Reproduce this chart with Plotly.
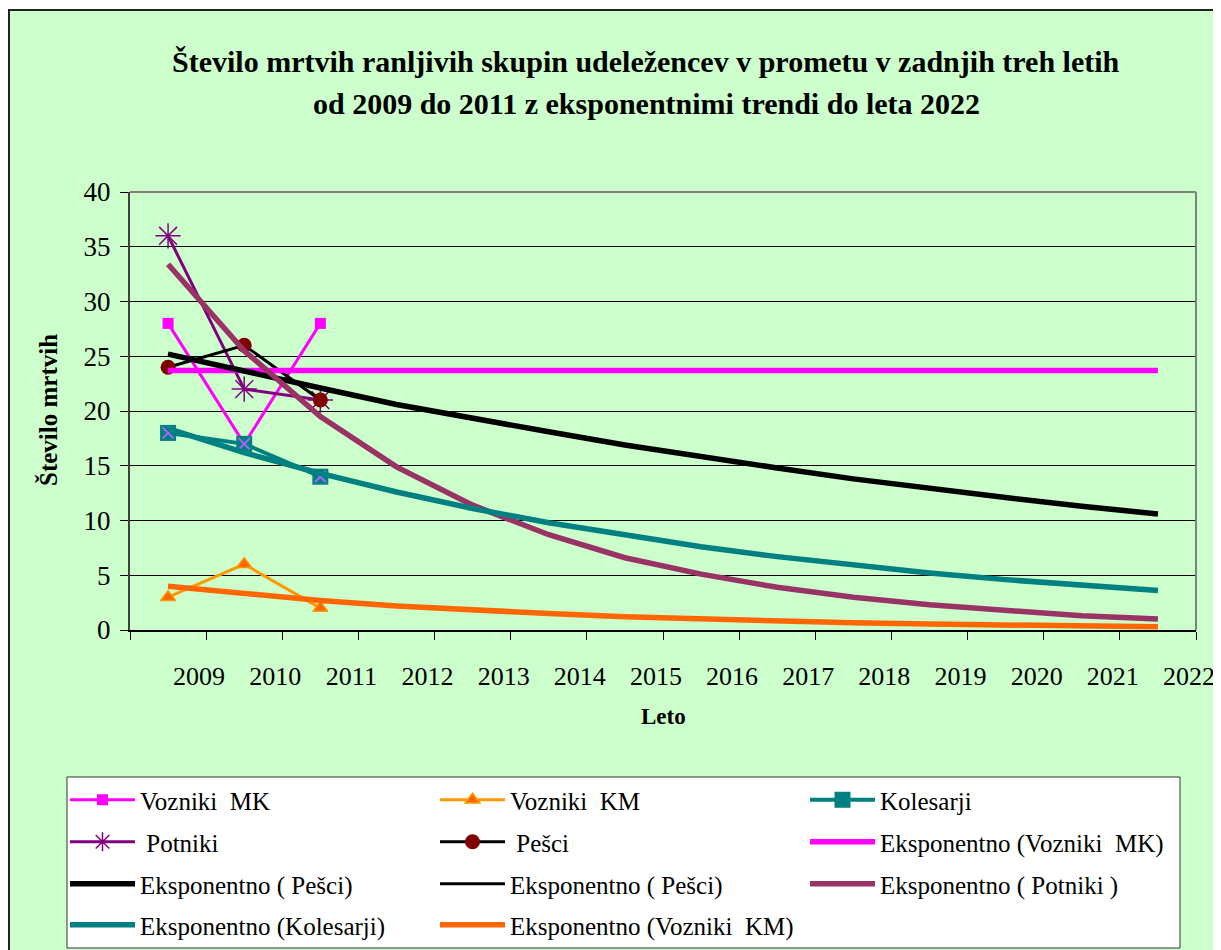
import plotly.graph_objects as go

# page body has an 8px margin; the figure is sized so it fills the 1221x950 window
OFF = 8
W, H = 1221 - OFF, 950 - OFF

years = [str(y) for y in range(2009, 2023)]
data_years = years[:3]

vozniki_mk = [28, 17, 28]
vozniki_km = [3, 6, 2]
kolesarji = [18, 17, 14]
potniki = [36, 22, 21]
pesci = [24, 26, 21]

trend_mk = [23.7] * 14
trend_pesci = [25.2, 23.6, 22.1, 20.6, 19.3, 18.1, 16.9, 15.8, 14.8, 13.8, 12.9, 12.1, 11.3, 10.6]
trend_potniki = [33.4, 25.5, 19.5, 14.9, 11.4, 8.7, 6.6, 5.1, 3.9, 3.0, 2.3, 1.75, 1.3, 1.0]
trend_kolesarji = [18.4, 16.2, 14.3, 12.6, 11.1, 9.8, 8.7, 7.6, 6.7, 5.9, 5.2, 4.6, 4.1, 3.6]
trend_km = [4.0, 3.3, 2.7, 2.2, 1.8, 1.5, 1.2, 1.0, 0.8, 0.66, 0.54, 0.44, 0.36, 0.29]

FONT = "Liberation Serif"


def px(x):
    return (x - OFF) / W


def py(y):
    return 1 - (y - OFF) / H


fig = go.Figure()

# data series
fig.add_trace(go.Scatter(x=data_years, y=vozniki_mk, name="Vozniki\u00a0 MK", mode="lines+markers",
                         line=dict(color="#FF00FF", width=3),
                         marker=dict(symbol="square", size=11, color="#FF00FF"), legend="legend"))
fig.add_trace(go.Scatter(x=data_years, y=vozniki_km, name="Vozniki\u00a0 KM", mode="lines+markers",
                         line=dict(color="#FF9900", width=3),
                         marker=dict(symbol="triangle-up", size=13, color="#FF6600",
                                     line=dict(color="#FF9900", width=1.5)), legend="legend"))
fig.add_trace(go.Scatter(x=data_years, y=kolesarji, name="Kolesarji", mode="lines+markers",
                         line=dict(color="#008080", width=4),
                         marker=dict(symbol="square", size=16, color="#008080"), legend="legend"))
fig.add_trace(go.Scatter(x=data_years, y=kolesarji, mode="markers", showlegend=False,
                         hoverinfo="skip",
                         marker=dict(symbol="x-thin-open", size=11,
                                     line=dict(color="#00FFFF", width=2))))
fig.add_trace(go.Scatter(x=data_years, y=potniki, name=" Potniki", mode="lines+markers",
                         line=dict(color="#800080", width=3),
                         marker=dict(symbol="asterisk-open", size=21,
                                     line=dict(color="#800080", width=1.5)), legend="legend2"))
fig.add_trace(go.Scatter(x=data_years, y=pesci, name=" Pešci", mode="lines+markers",
                         line=dict(color="#000000", width=3),
                         marker=dict(symbol="circle", size=15, color="#800000"), legend="legend2"))

# exponential trends
fig.add_trace(go.Scatter(x=years, y=trend_mk, name="Eksponentno (Vozniki\u00a0 MK)", mode="lines",
                         line=dict(color="#FF00FF", width=5.5), legend="legend2"))
fig.add_trace(go.Scatter(x=years, y=trend_pesci, name="Eksponentno ( Pešci)", mode="lines",
                         line=dict(color="#000000", width=5.5), legend="legend3"))
fig.add_trace(go.Scatter(x=years, y=trend_pesci, name="Eksponentno ( Pešci) ", mode="lines",
                         line=dict(color="#000000", width=3), legend="legend3"))
fig.add_trace(go.Scatter(x=years, y=trend_potniki, name="Eksponentno ( Potniki )", mode="lines",
                         line=dict(color="#993366", width=5.5), legend="legend3"))
fig.add_trace(go.Scatter(x=years, y=trend_kolesarji, name="Eksponentno (Kolesarji)", mode="lines",
                         line=dict(color="#008080", width=5.5), legend="legend4"))
fig.add_trace(go.Scatter(x=years, y=trend_km, name="Eksponentno (Vozniki\u00a0 KM)", mode="lines",
                         line=dict(color="#FF6600", width=5.5), legend="legend4"))

L, R, T, B = 130, 1196, 192, 630

leg_common = dict(orientation="h", xanchor="left", yanchor="middle", x=px(65),
                  bgcolor="rgba(0,0,0,0)", borderwidth=0, itemwidth=65,
                  entrywidth=290, font=dict(family=FONT, size=25, color="black"),
                  traceorder="normal")
rows = [800, 842, 884, 925]

shapes = [
    # chart area (green) with dark border at left/top
    dict(type="rect", xref="paper", yref="paper", x0=px(9), x1=1.01, y0=-0.01, y1=py(10),
         fillcolor="#CCFFCC", line=dict(color="#222222", width=2), layer="below"),
    # legend box
    dict(type="rect", xref="paper", yref="paper", x0=px(67), x1=px(1180), y0=py(948), y1=py(777),
         fillcolor="white", line=dict(color="#333333", width=1), layer="below"),
    # plot area top & right border
    dict(type="line", xref="paper", yref="paper", x0=px(L), x1=px(R), y0=py(T), y1=py(T),
         line=dict(color="#808080", width=2), layer="above"),
    dict(type="line", xref="paper", yref="paper", x0=px(R), x1=px(R), y0=py(T), y1=py(B),
         line=dict(color="#808080", width=2), layer="above"),
]

fig.update_layout(
    width=W, height=H,
    autosize=False,
    margin=dict(l=0, r=0, t=0, b=0, pad=0, autoexpand=False),
    paper_bgcolor="white",
    plot_bgcolor="#FFCC99",
    font=dict(family=FONT, color="black"),
    showlegend=True,
    legend=dict(**leg_common, y=py(rows[0])),
    legend2=dict(**leg_common, y=py(rows[1])),
    legend3=dict(**leg_common, y=py(rows[2])),
    legend4=dict(**leg_common, y=py(rows[3])),
    xaxis=dict(domain=[px(L), px(R)], type="category", categoryorder="array", categoryarray=years,
               range=[-0.5, 13.5], tickson="boundaries", ticks="outside", ticklen=8, tickwidth=1,
               tickcolor="black", showline=True, linecolor="black", linewidth=1.5,
               showgrid=False, zeroline=False, tickfont=dict(family=FONT, size=26),
               ticklabelshift=31, ticklabelstandoff=22, automargin=False),
    yaxis=dict(domain=[py(B), py(T)], range=[0, 40], tickvals=[0, 5, 10, 15, 20, 25, 30, 35, 40],
               ticks="outside", ticklen=8, tickwidth=1, tickcolor="black",
               showline=True, linecolor="#404040", linewidth=2,
               showgrid=True, gridcolor="black", gridwidth=1, zeroline=False,
               tickfont=dict(family=FONT, size=27), ticklabelstandoff=4, automargin=False),
    shapes=shapes,
    annotations=[
        dict(text="<b>Število mrtvih ranljivih skupin udeležencev v prometu v zadnjih treh letih</b>",
             x=px(646), y=py(62), xref="paper", yref="paper", showarrow=False,
             font=dict(family=FONT, size=30), xanchor="center", yanchor="middle"),
        dict(text="<b>od 2009 do 2011 z eksponentnimi trendi do leta 2022</b>",
             x=px(646), y=py(104), xref="paper", yref="paper", showarrow=False,
             font=dict(family=FONT, size=30), xanchor="center", yanchor="middle"),
        dict(text="<b>Število mrtvih</b>", x=px(48), y=py(410), xref="paper", yref="paper",
             showarrow=False, textangle=-90, font=dict(family=FONT, size=25),
             xanchor="center", yanchor="middle"),
        dict(text="<b>Leto</b>", x=px(663), y=py(716), xref="paper", yref="paper",
             showarrow=False, font=dict(family=FONT, size=23), xanchor="center", yanchor="middle"),
    ],
)

fig.write_html("out.html")
